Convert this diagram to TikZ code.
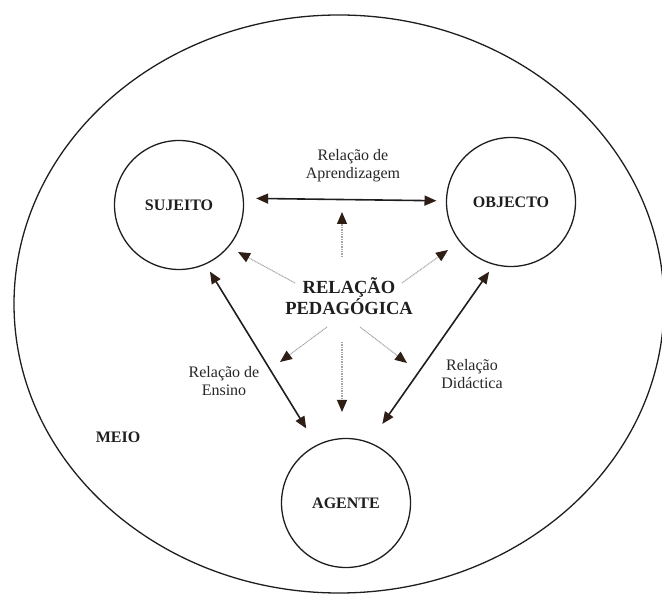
\documentclass[tikz,border=0pt]{standalone}
\usepackage{fontspec}
\setmainfont{Liberation Serif}
\usetikzlibrary{arrows.meta}
\definecolor{tipc}{HTML}{2E1E16}
\definecolor{inkc}{HTML}{1E1E1E}
\begin{document}
\begin{tikzpicture}[x=1pt,y=-1pt,
  circ/.style={draw=inkc, line width=1.3pt, circle, minimum size=129pt, inner sep=0pt, outer sep=0pt,
    font=\fontsize{16}{19}\selectfont\bfseries, text=inkc},
  lbl/.style={font=\fontsize{16}{18}\selectfont, align=center, text=black!85, inner sep=0pt},
  bigl/.style={font=\fontsize{18.5}{21}\selectfont\bfseries, align=center, text=inkc, inner sep=0pt},
  solidarr/.style={line width=1.6pt, draw=inkc,
    {Triangle[length=12pt,width=10pt,color=tipc]}-{Triangle[length=12pt,width=10pt,color=tipc]}},
  dotarr/.style={line width=1.1pt, draw=gray!70, dash pattern=on 1pt off 0.7pt,
    -{Triangle[length=12pt,width=10pt,color=tipc]}}
]
\useasboundingbox (0,0) rectangle (662,601);
% outer environment
\draw[line width=1.3pt, draw=inkc] (339,304) ellipse [x radius=325pt, y radius=289pt];
\node[font=\fontsize{16}{19}\selectfont\bfseries, text=inkc] (meio) at (118,437) {MEIO};

% main nodes
\node[circ] (suj) at (179,205) {SUJEITO};
\node[circ] (obj) at (511,202) {OBJECTO};
\node[circ] (ag)  at (346,503) {AGENTE};

% centre
\node[bigl] (rp) at (349,296) {RELAÇÃO\\PEDAGÓGICA};

% labels
\node[lbl] (lapr) at (353,166) {Relação de\\Aprendizagem};
\node[lbl] (lens) at (224,381) {Relação de\\Ensino};
\node[lbl] (ldid) at (472,374) {Relação\\Didáctica};

% solid relations
\draw[solidarr, shorten <=13pt, shorten >=10pt] (suj.6) -- (obj.179);
\draw[solidarr, shorten <=9pt, shorten >=20pt] (suj.294) -- (ag.117);
\draw[solidarr, shorten <=9pt, shorten >=23pt] (obj.255) -- (ag.69);

% dotted arrows from the pedagogical relation
\coordinate (d1s) at (342,257); \coordinate (d1e) at (342,212);
\coordinate (d2s) at (295,283); \coordinate (d2e) at (238,252);
\coordinate (d3s) at (402,283); \coordinate (d3e) at (448,250);
\coordinate (d4s) at (327,327); \coordinate (d4e) at (280,362);
\coordinate (d5s) at (342,342); \coordinate (d5e) at (342,412);
\coordinate (d6s) at (360,327); \coordinate (d6e) at (407,363);
\draw[dotarr] (d1s) -- (d1e);
\draw[dotarr] (d2s) -- (d2e);
\draw[dotarr] (d3s) -- (d3e);
\draw[dotarr] (d4s) -- (d4e);
\draw[dotarr] (d5s) -- (d5e);
\draw[dotarr] (d6s) -- (d6e);
\end{tikzpicture}
\end{document}
